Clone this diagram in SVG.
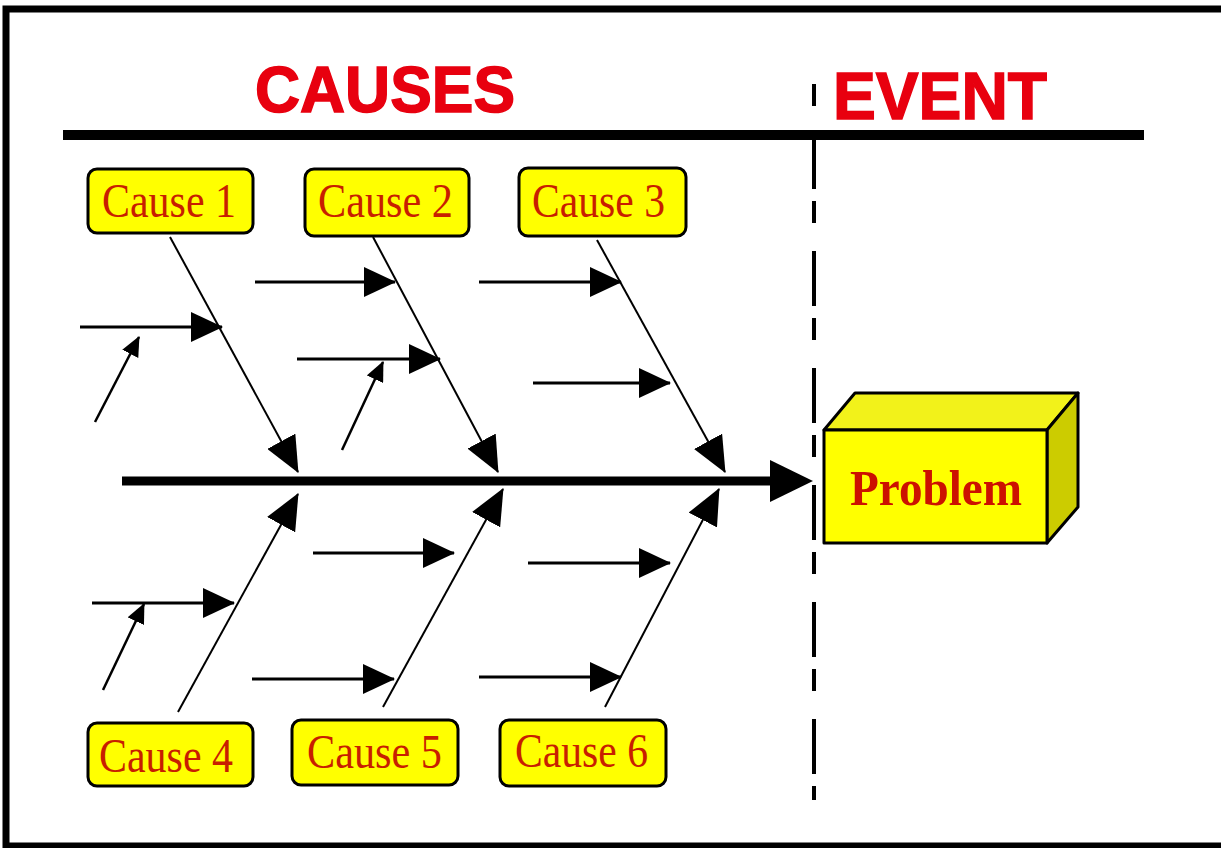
<svg xmlns="http://www.w3.org/2000/svg" width="1221" height="848" viewBox="0 0 1221 848">
<style>
.title{font-family:"Liberation Sans",Arial,sans-serif;font-weight:bold;fill:#E8000F;stroke:#E8000F;stroke-width:1.5}
.cbox{fill:#FFFF00;stroke:#000;stroke-width:3}
.ctext{font-family:"Liberation Serif","Times New Roman",serif;font-size:48px;fill:#C81E00}
.h{stroke:#000;stroke-width:3;fill:none}
.bone{stroke:#000;stroke-width:2;fill:none}
.d{stroke:#000;stroke-width:2.5;fill:none}
</style>
<defs>
<marker id="big" markerUnits="userSpaceOnUse" markerWidth="32" markerHeight="30" refX="31" refY="15" orient="auto" viewBox="0 0 32 30"><path d="M0,0 L32,15 L0,30 z" fill="#000"/></marker>
<marker id="bh" markerUnits="userSpaceOnUse" markerWidth="36" markerHeight="32" refX="35" refY="16" orient="auto" viewBox="0 0 36 32"><path d="M0,0 L36,16 L0,32 z" fill="#000"/></marker>
<marker id="sm" markerUnits="userSpaceOnUse" markerWidth="20" markerHeight="18" refX="19" refY="9" orient="auto" viewBox="0 0 20 18"><path d="M0,0 L20,9 L0,18 z" fill="#000"/></marker>
</defs>
<rect x="0" y="0" width="1221" height="848" fill="#fff"/>
<rect x="6" y="9" width="1230" height="837" fill="none" stroke="#000" stroke-width="7"/>
<g id="headers">
<text class="title" x="255" y="112" font-size="64" textLength="260" lengthAdjust="spacingAndGlyphs">CAUSES</text>
<text class="title" x="833" y="119" font-size="66" textLength="214" lengthAdjust="spacingAndGlyphs">EVENT</text>
<line x1="63" y1="135" x2="1144" y2="135" stroke="#000" stroke-width="10"/>
<line x1="814" y1="84" x2="814" y2="800" stroke="#000" stroke-width="4" stroke-dasharray="22 28 0 0 55 12"/>
</g>
<g id="connectors">
<line x1="122" y1="481" x2="776" y2="481" stroke="#000" stroke-width="9"/>
<polygon points="770,460 813,481 770,502" fill="#000"/>
<line class="bone" x1="170" y1="237" x2="298" y2="472" marker-end="url(#bh)"/>
<line class="bone" x1="373" y1="237" x2="498" y2="472" marker-end="url(#bh)"/>
<line class="bone" x1="597" y1="240" x2="725" y2="472" marker-end="url(#bh)"/>
<line class="bone" x1="178" y1="712" x2="298" y2="494" marker-end="url(#bh)"/>
<line class="bone" x1="383" y1="707" x2="503" y2="489" marker-end="url(#bh)"/>
<line class="bone" x1="605" y1="707" x2="719" y2="489" marker-end="url(#bh)"/>
<line class="h" x1="80" y1="327" x2="222" y2="327" marker-end="url(#big)"/>
<line class="h" x1="255" y1="282" x2="395" y2="282" marker-end="url(#big)"/>
<line class="h" x1="297" y1="359" x2="440" y2="359" marker-end="url(#big)"/>
<line class="h" x1="479" y1="282" x2="621" y2="282" marker-end="url(#big)"/>
<line class="h" x1="533" y1="383" x2="670" y2="383" marker-end="url(#big)"/>
<line class="h" x1="92" y1="603" x2="234" y2="603" marker-end="url(#big)"/>
<line class="h" x1="313" y1="553" x2="454" y2="553" marker-end="url(#big)"/>
<line class="h" x1="252" y1="679" x2="394" y2="679" marker-end="url(#big)"/>
<line class="h" x1="528" y1="563" x2="670" y2="563" marker-end="url(#big)"/>
<line class="h" x1="479" y1="677" x2="621" y2="677" marker-end="url(#big)"/>
<line class="d" x1="95" y1="422" x2="139" y2="337" marker-end="url(#sm)"/>
<line class="d" x1="342" y1="450" x2="383" y2="362" marker-end="url(#sm)"/>
<line class="d" x1="103" y1="690" x2="144" y2="604" marker-end="url(#sm)"/>
</g>
<g id="cause1"><rect class="cbox" x="88" y="169" width="165" height="64" rx="9"/><text class="ctext" x="102" y="217" textLength="134" lengthAdjust="spacingAndGlyphs">Cause 1</text></g>
<g id="cause2"><rect class="cbox" x="305" y="169" width="164" height="67" rx="9"/><text class="ctext" x="318" y="217" textLength="135" lengthAdjust="spacingAndGlyphs">Cause 2</text></g>
<g id="cause3"><rect class="cbox" x="519" y="168" width="167" height="68" rx="9"/><text class="ctext" x="532" y="217" textLength="133" lengthAdjust="spacingAndGlyphs">Cause 3</text></g>
<g id="cause4"><rect class="cbox" x="88" y="723" width="165" height="63" rx="9"/><text class="ctext" x="99" y="772" textLength="134" lengthAdjust="spacingAndGlyphs">Cause 4</text></g>
<g id="cause5"><rect class="cbox" x="292" y="720" width="166" height="65" rx="9"/><text class="ctext" x="307" y="768" textLength="135" lengthAdjust="spacingAndGlyphs">Cause 5</text></g>
<g id="cause6"><rect class="cbox" x="500" y="720" width="166" height="66" rx="9"/><text class="ctext" x="515" y="767" textLength="133" lengthAdjust="spacingAndGlyphs">Cause 6</text></g>
<g id="problem" stroke="#000" stroke-width="3" stroke-linejoin="round">
<polygon points="824,430 855,393 1078,393 1047,430" fill="#F2F21A"/>
<polygon points="1047,430 1078,393 1078,507 1047,543" fill="#CCCC00"/>
<rect x="824" y="430" width="223" height="113" fill="#FFFF00"/>
<text x="850" y="505" stroke="none" font-family="'Liberation Serif','Times New Roman',serif" font-size="50" font-weight="bold" fill="#CC1100" textLength="172" lengthAdjust="spacingAndGlyphs">Problem</text>
</g>
</svg>
